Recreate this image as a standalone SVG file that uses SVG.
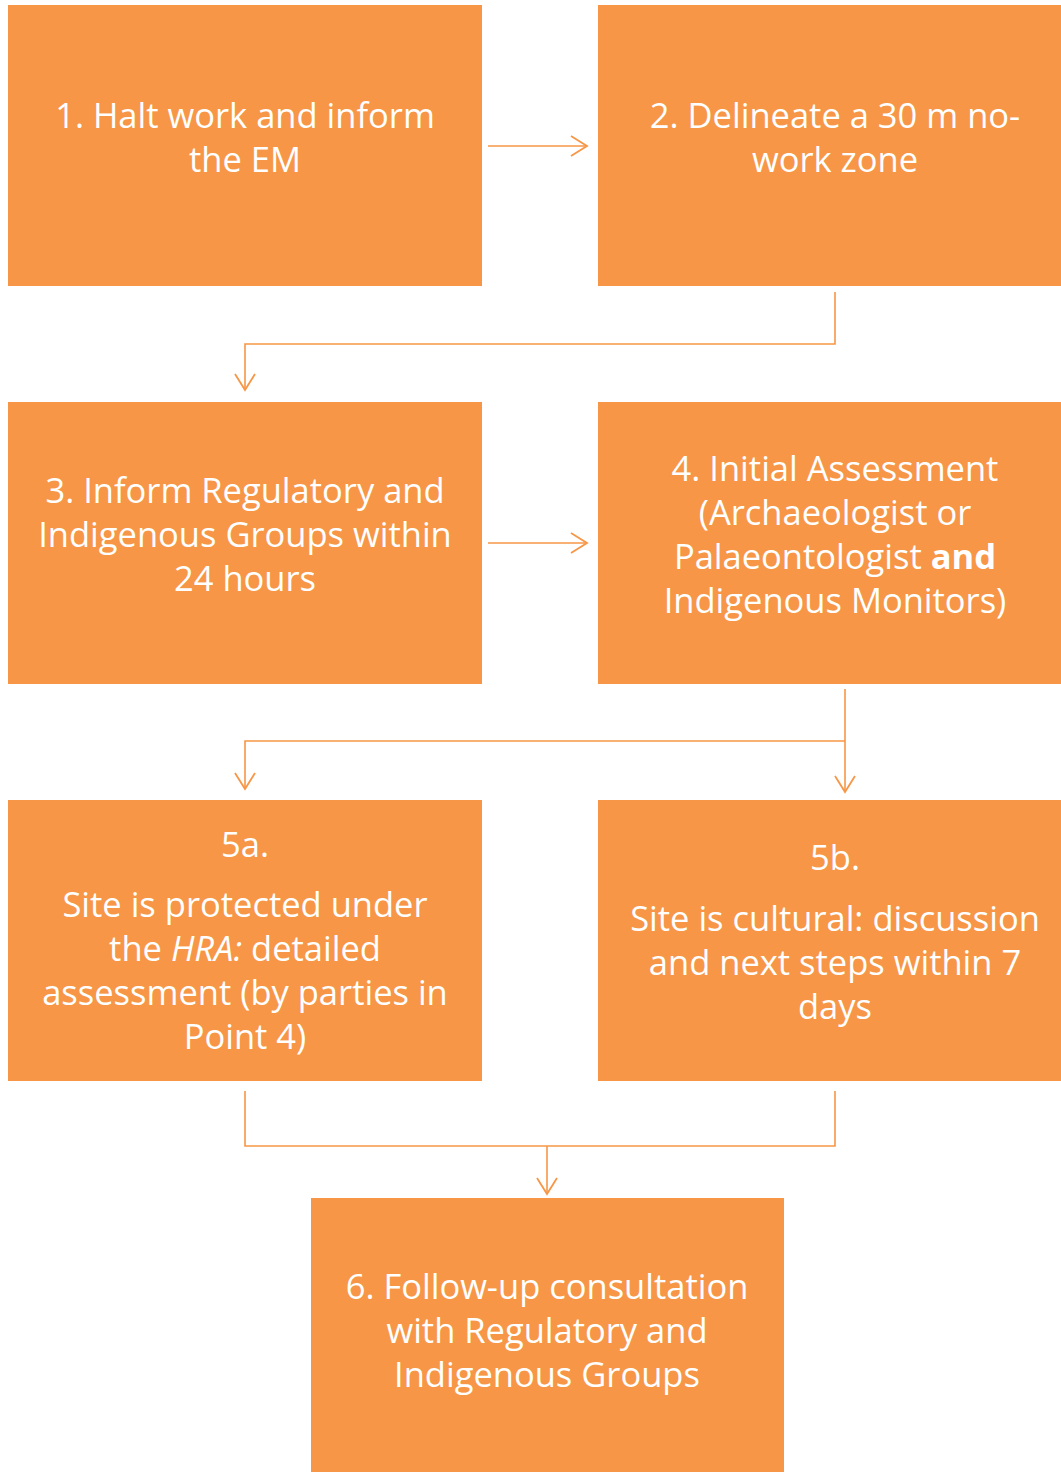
<svg xmlns="http://www.w3.org/2000/svg" width="1061" height="1472" viewBox="0 0 1061 1472">
<defs>
<style>
.box{fill:#F79646;}
.t{font-family:"Open Sans","Liberation Sans",sans-serif;font-size:34.5px;fill:#FFFFFF;text-anchor:middle;}
.c{fill:none;stroke:#F79646;stroke-width:1.6;}
</style>
<marker id="ah" markerWidth="20" markerHeight="24" refX="17" refY="11" orient="auto" markerUnits="userSpaceOnUse">
<path d="M1,1 L17,11 L1,21" fill="none" stroke="#F79646" stroke-width="1.8"/>
</marker>
</defs>
<rect width="1061" height="1472" fill="#FFFFFF"/>
<g id="connectors">
<line class="c" x1="488" y1="146" x2="587" y2="146" marker-end="url(#ah)"/>
<polyline class="c" points="835,292 835,344 245,344 245,390" marker-end="url(#ah)"/>
<line class="c" x1="488" y1="543" x2="587" y2="543" marker-end="url(#ah)"/>
<polyline class="c" points="845,689 845,792" marker-end="url(#ah)"/>
<polyline class="c" points="845,741 245,741 245,789" marker-end="url(#ah)"/>
<polyline class="c" points="245,1091 245,1146 835,1146 835,1091"/>
<line class="c" x1="547" y1="1146" x2="547" y2="1194" marker-end="url(#ah)"/>
</g>
<g id="n1">
<rect class="box" x="8" y="5" width="474" height="281"/>
<text class="t" x="245" y="128">1. Halt work and inform</text>
<text class="t" x="245" y="172">the EM</text>
</g>
<g id="n2">
<rect class="box" x="598" y="5" width="463" height="281"/>
<text class="t" x="835" y="128">2. Delineate a 30 m no-</text>
<text class="t" x="835" y="172">work zone</text>
</g>
<g id="n3">
<rect class="box" x="8" y="402" width="474" height="282"/>
<text class="t" x="245" y="503">3. Inform Regulatory and</text>
<text class="t" x="245" y="547">Indigenous Groups within</text>
<text class="t" x="245" y="591">24 hours</text>
</g>
<g id="n4">
<rect class="box" x="598" y="402" width="463" height="282"/>
<text class="t" x="835" y="481">4. Initial Assessment</text>
<text class="t" x="835" y="525">(Archaeologist or</text>
<text class="t" x="835" y="569">Palaeontologist <tspan font-weight="bold">and</tspan></text>
<text class="t" x="835" y="613">Indigenous Monitors)</text>
</g>
<g id="n5a">
<rect class="box" x="8" y="800" width="474" height="281"/>
<text class="t" x="245" y="857">5a.</text>
<text class="t" x="245" y="917">Site is protected under</text>
<text class="t" x="245" y="961">the <tspan font-style="italic">HRA:</tspan> detailed</text>
<text class="t" x="245" y="1005">assessment (by parties in</text>
<text class="t" x="245" y="1049">Point 4)</text>
</g>
<g id="n5b">
<rect class="box" x="598" y="800" width="463" height="281"/>
<text class="t" x="835" y="870">5b.</text>
<text class="t" x="835" y="931">Site is cultural: discussion</text>
<text class="t" x="835" y="975">and next steps within 7</text>
<text class="t" x="835" y="1019">days</text>
</g>
<g id="n6">
<rect class="box" x="311" y="1198" width="473" height="274"/>
<text class="t" x="547" y="1299">6. Follow-up consultation</text>
<text class="t" x="547" y="1343">with Regulatory and</text>
<text class="t" x="547" y="1387">Indigenous Groups</text>
</g>
</svg>
